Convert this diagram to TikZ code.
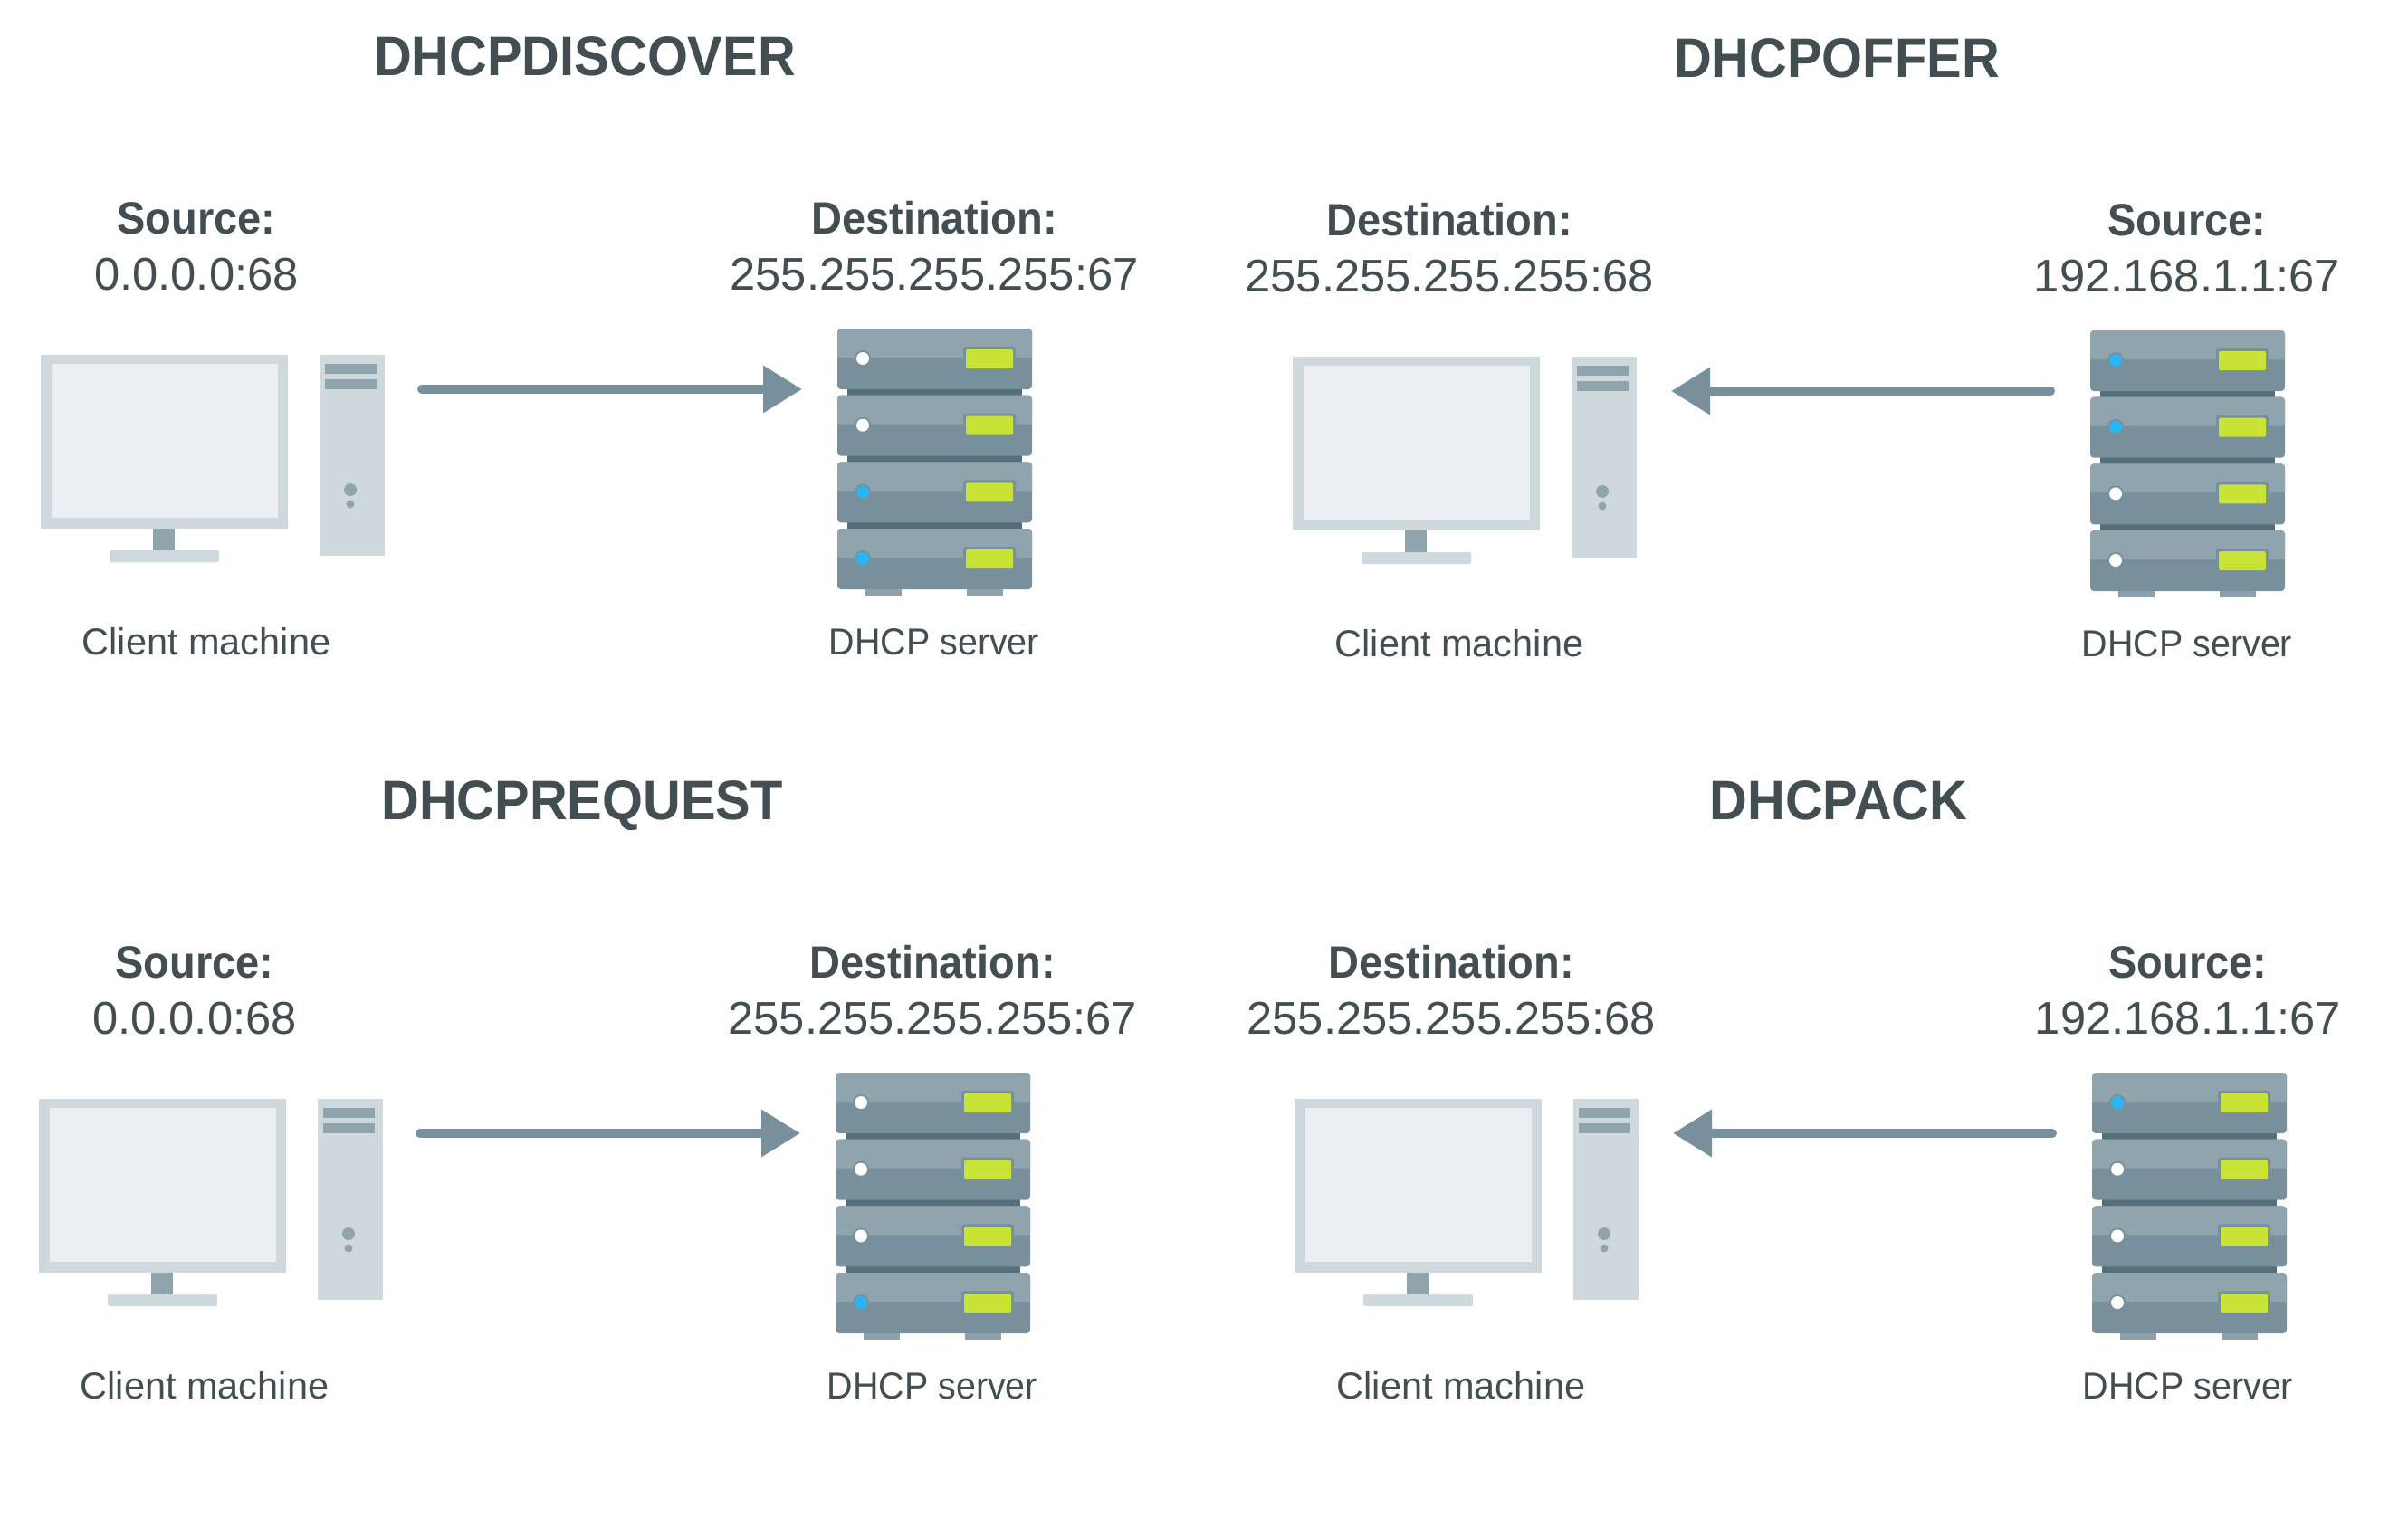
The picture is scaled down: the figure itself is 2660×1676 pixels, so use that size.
\documentclass[tikz,border=0pt]{standalone}
\usepackage{fontspec}
\setmainfont[BoldFeatures={FakeStretch=0.94}]{Liberation Sans}
\newfontfamily\narrowface[FakeStretch=0.95]{Liberation Sans}
\usetikzlibrary{arrows.meta}
\definecolor{frameC}{HTML}{CFD8DC}
\definecolor{screenC}{HTML}{ECEFF1}
\definecolor{lightC}{HTML}{90A4AE}
\definecolor{darkC}{HTML}{78909C}
\definecolor{gapC}{HTML}{546E7A}
\definecolor{limeC}{HTML}{C9E236}
\definecolor{blueC}{HTML}{29B6F6}
\definecolor{textC}{HTML}{424E52}
\newcommand{\fs}[1]{\fontsize{#1pt}{#1pt}\selectfont}
\tikzset{
  x=1pt,y=-1pt,
  heading/.style={anchor=base,text=textC,font=\fs{61.5}\bfseries,inner sep=0},
  caption/.style={anchor=base,text=textC,font=\fs{50}\bfseries,inner sep=0},
  value/.style={anchor=base,text=textC,font=\fs{50.7},inner sep=0},
  device/.style={anchor=base,text=textC,font=\fs{41.5},inner sep=0},
  rackname/.style={anchor=base,text=textC,font=\narrowface\fs{41.5},inner sep=0},
  flow/.style={draw=darkC,line width=10pt,line cap=round,-{Triangle[length=43pt,width=50pt,fill=darkC]}},
}
\newcommand{\clientpc}[2]{%
  \begin{scope}[shift={(#1,#2)}]
    \fill[frameC] (45,392) rectangle (318,584);
    \fill[screenC] (57,402) rectangle (307,572);
    \fill[lightC] (169,584) rectangle (193,608);
    \fill[frameC,rounded corners=2pt] (121,608) rectangle (242,621);
    \fill[frameC] (353,392) rectangle (425,614);
    \fill[lightC] (359,402) rectangle (416,413);
    \fill[lightC] (359,419) rectangle (416,430);
    \fill[lightC] (387,541) circle (7);
    \fill[lightC] (387,557) circle (4.5);
  \end{scope}}
\newcommand{\rackunit}[2]{%
  \begin{scope}[yshift=-#1pt]
    \fill[darkC,rounded corners=4pt] (925,363) rectangle (1140,430);
    \fill[lightC] (925,395) {[rounded corners=4pt] -- (925,363) -- (1140,363)} -- (1140,395) -- cycle;
    \fill[darkC,rounded corners=3pt] (1064,383) rectangle (1122,410);
    \fill[limeC,rounded corners=2pt] (1067,386) rectangle (1119,407);
    \fill[darkC] (953,396) circle (9);
    \fill[#2] (953,396) circle (7);
  \end{scope}}
\newcommand{\rackstack}[6]{%
  \begin{scope}[shift={(#1,#2)}]
    \fill[gapC] (936,425) rectangle (1129,440);
    \fill[gapC] (936,499) rectangle (1129,514);
    \fill[gapC] (936,573) rectangle (1129,588);
    \fill[darkC!85!white] (956,645) rectangle (996,658);
    \fill[darkC!85!white] (1068,645) rectangle (1108,658);
    \rackunit{0}{#3}
    \rackunit{73.7}{#4}
    \rackunit{147.4}{#5}
    \rackunit{221}{#6}
  \end{scope}}
\begin{document}
\begin{tikzpicture}
\useasboundingbox (0,0) rectangle (2660,1676);
\fill[white] (0,0) rectangle (2660,1676);
% panel 1
\clientpc{0}{0}
\rackstack{0}{0}{white}{white}{blueC}{blueC}
\node[heading] (t1) at (646,83) {DHCPDISCOVER};
\node[caption] (s1) at (217,258) {Source:};
\node[value] (sv1) at (217,320) {0.0.0.0:68};
\node[caption] (d1) at (1032,258) {Destination:};
\node[value] (dv1) at (1032,320) {255.255.255.255:67};
\node[device] (c1) at (228,723.5) {Client machine};
\node[rackname] (m1) at (1032,723.5) {DHCP server};
\coordinate (a1) at (466,430);
\coordinate (b1) at (886,430);
\draw[flow] (a1) -- (b1);
% panel 2
\clientpc{1383}{2}
\rackstack{1384}{2}{blueC}{blueC}{white}{white}
\node[heading] (t2) at (2029,85) {DHCPOFFER};
\node[caption] (d2) at (1601,260) {Destination:};
\node[value] (dv2) at (1601,322) {255.255.255.255:68};
\node[caption] (s2) at (2416,260) {Source:};
\node[value] (sv2) at (2416,322) {192.168.1.1:67};
\node[device] (c2) at (1612,725.5) {Client machine};
\node[rackname] (m2) at (2416,725.5) {DHCP server};
\coordinate (a2) at (2265,432);
\coordinate (b2) at (1846,432);
\draw[flow] (a2) -- (b2);
% panel 3
\clientpc{-2}{822}
\rackstack{-2}{822}{white}{white}{white}{blueC}
\node[heading] (t3) at (643,905) {DHCPREQUEST};
\node[caption] (s3) at (215,1080) {Source:};
\node[value] (sv3) at (215,1142) {0.0.0.0:68};
\node[caption] (d3) at (1030,1080) {Destination:};
\node[value] (dv3) at (1030,1142) {255.255.255.255:67};
\node[device] (c3) at (226,1545.5) {Client machine};
\node[rackname] (m3) at (1030,1545.5) {DHCP server};
\coordinate (a3) at (464,1252);
\coordinate (b3) at (884,1252);
\draw[flow] (a3) -- (b3);
% panel 4
\clientpc{1385}{822}
\rackstack{1386}{822}{blueC}{white}{white}{white}
\node[heading] (t4) at (2031,905) {DHCPACK};
\node[caption] (d4) at (1603,1080) {Destination:};
\node[value] (dv4) at (1603,1142) {255.255.255.255:68};
\node[caption] (s4) at (2417,1080) {Source:};
\node[value] (sv4) at (2417,1142) {192.168.1.1:67};
\node[device] (c4) at (1614,1545.5) {Client machine};
\node[rackname] (m4) at (2417,1545.5) {DHCP server};
\coordinate (a4) at (2267,1252);
\coordinate (b4) at (1848,1252);
\draw[flow] (a4) -- (b4);
\end{tikzpicture}
\end{document}
